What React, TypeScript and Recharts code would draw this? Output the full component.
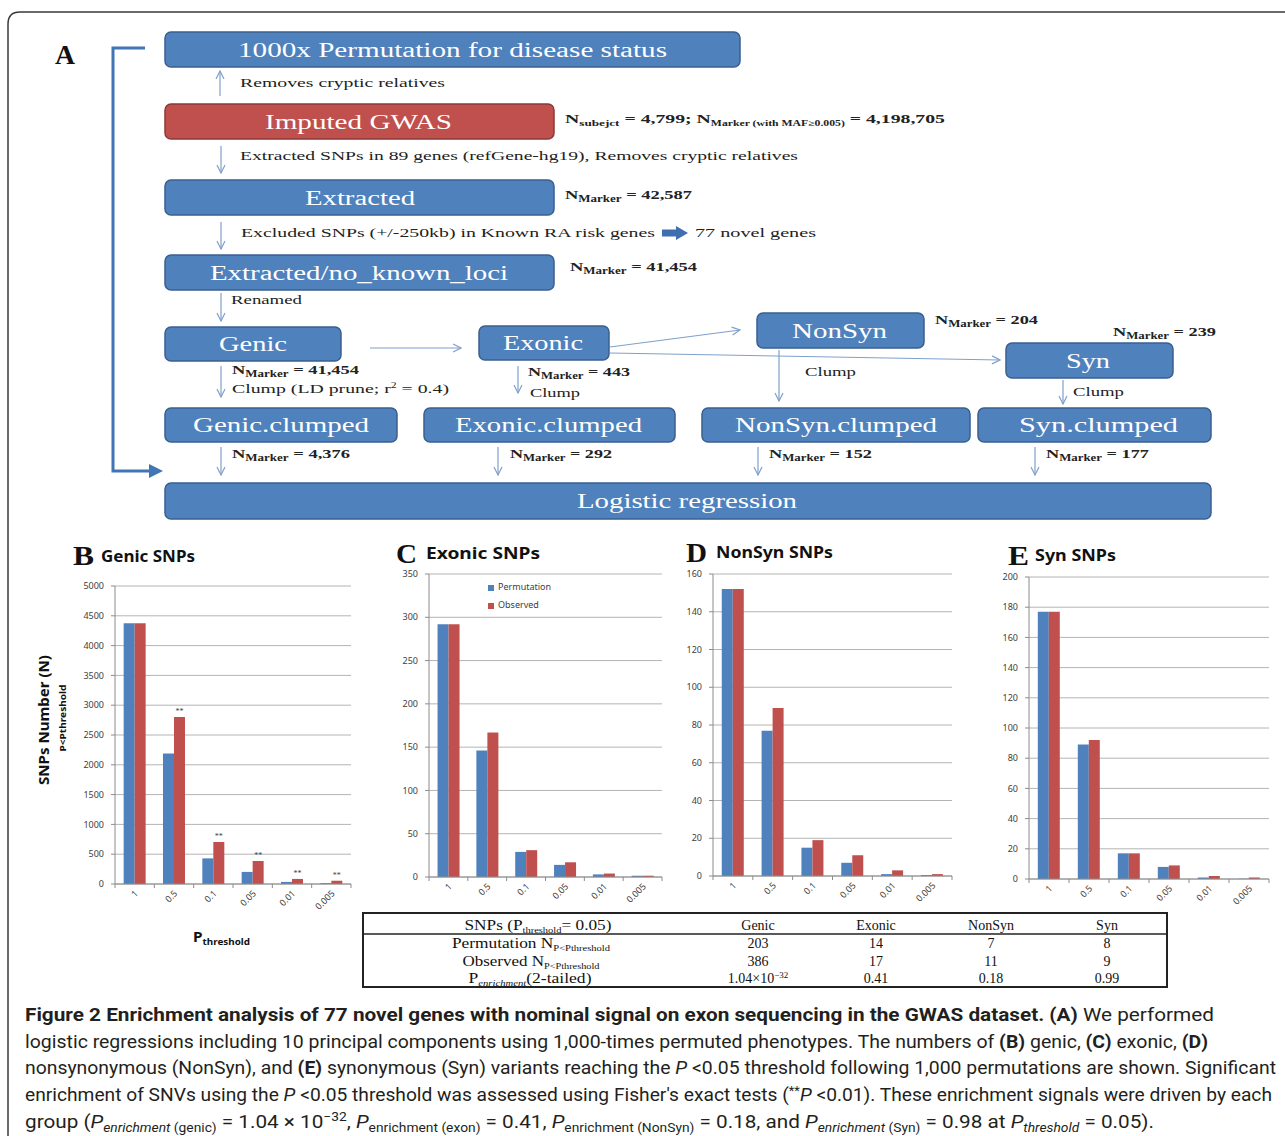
import React from 'react';
import { BarChart, Bar, XAxis, YAxis, CartesianGrid, Legend, LabelList } from 'recharts';

// P thresholds on the x axis (same for all four panels)
const thresholds = ['1', '0.5', '0.1', '0.05', '0.01', '0.005'];

// B: genic SNPs
const genicPerm = [4376, 2190, 430, 203, 35, 15];
const genicObs = [4376, 2800, 705, 386, 85, 55];
const genicSig = ['', '**', '**', '**', '**', '**'];
const genicTicks = [0, 500, 1000, 1500, 2000, 2500, 3000, 3500, 4000, 4500, 5000];

// C: exonic SNPs
const exonicPerm = [292, 146, 29, 14, 3, 1.5];
const exonicObs = [292, 167, 31, 17, 4, 1.5];
const exonicTicks = [0, 50, 100, 150, 200, 250, 300, 350];

// D: nonsynonymous SNPs
const nonsynPerm = [152, 77, 15, 7, 1, 0.5];
const nonsynObs = [152, 89, 19, 11, 3, 1];
const nonsynTicks = [0, 20, 40, 60, 80, 100, 120, 140, 160];

// E: synonymous SNPs
const synPerm = [177, 89, 17, 8, 1, 0.2];
const synObs = [177, 92, 17, 9, 2, 1];
const synTicks = [0, 20, 40, 60, 80, 100, 120, 140, 160, 180, 200];

// summary table (P threshold = 0.05)
const tableCols = ['Genic', 'Exonic', 'NonSyn', 'Syn'];
const tablePerm = ['203', '14', '7', '8'];
const tableObs = ['386', '17', '11', '9'];
const tableP = ['1.04', '0.41', '0.18', '0.99'];

const BLUE = '#4f81bd';
const RED = '#c0504d';
const SERIF = '"Liberation Serif", "Times New Roman", serif';
const SANS = '"Noto Sans", "Open Sans", sans-serif';
const CAPTION = 'Roboto, "Liberation Sans", sans-serif';
const AXIS = '#8c8c8c';
const ARROW = '#7fa0cc';

const Y_W = 45;
const X_H = 50;
const PAD_T = 12;
const PAD_R = 12;

type Plot = { x0: number; y0: number; x1: number; y1: number };

function rowsOf(perm: number[], obs: number[], sig?: string[]) {
  return thresholds.map((p, i) => ({ p, perm: perm[i], obs: obs[i], sig: sig ? sig[i] : '' }));
}

function SnpChart({ rows, ticks, plot, legend }: { rows: any[]; ticks: number[]; plot: Plot; legend?: boolean }) {
  const w = plot.x1 - plot.x0;
  const h = plot.y1 - plot.y0;
  const half = w / thresholds.length / 2;
  const axisY = PAD_T + h;

  const renderTick = (props: any) => {
    const { x, index } = props;
    const tx = x + 4;
    const ty = axisY + 10;
    return (
      <g>
        <line x1={x - half} x2={x - half} y1={axisY} y2={axisY + 4} stroke={AXIS} />
        {index === thresholds.length - 1 && (
          <line x1={x + half} x2={x + half} y1={axisY} y2={axisY + 4} stroke={AXIS} />
        )}
        <text x={tx} y={ty} transform={`rotate(-45 ${tx} ${ty})`} textAnchor="end" fontSize={9} fill="#404040" fontFamily={SANS}>
          {props.payload.value}
        </text>
      </g>
    );
  };

  return (
    <div style={{ position: 'absolute', left: plot.x0 - Y_W, top: plot.y0 - PAD_T }}>
      <BarChart
        width={w + Y_W + PAD_R}
        height={h + PAD_T + X_H}
        data={rows}
        margin={{ top: PAD_T, right: PAD_R, left: 0, bottom: 0 }}
        barCategoryGap="22%"
        barGap={0}
      >
        <CartesianGrid vertical={false} stroke="#b4b4b4" />
        <XAxis dataKey="p" height={X_H} tick={renderTick} tickLine={false} axisLine={{ stroke: AXIS }} interval={0} />
        <YAxis
          width={Y_W}
          domain={[0, ticks[ticks.length - 1]]}
          ticks={ticks}
          interval={0}
          tickSize={4}
          tickMargin={7}
          tick={{ fontSize: 9, fill: '#404040', fontFamily: SANS }}
          axisLine={{ stroke: AXIS }}
          tickLine={{ stroke: AXIS }}
        />
        <Bar dataKey="perm" name="Permutation" fill={BLUE} isAnimationActive={false} />
        <Bar dataKey="obs" name="Observed" fill={RED} isAnimationActive={false}>
          <LabelList dataKey="sig" position="top" offset={3} fontSize={8} fill="#404040" />
        </Bar>
        {legend && (
          <Legend
            layout="vertical"
            align="center"
            verticalAlign="middle"
            iconType="square"
            iconSize={6}
            itemSorter={(item: any) => (item.value === 'Permutation' ? 0 : 1)}
            formatter={(v: string) => <span style={{ color: '#404040' }}>{v}</span>}
            wrapperStyle={{ left: 104, top: 16, width: 90, fontSize: 9, lineHeight: '18px', fontFamily: SANS }}
          />
        )}
      </BarChart>
    </div>
  );
}

// fitted text helper
function FT({ x, y, w, size = 13.5, bold, fill = '#222', family = SERIF, anchor, children }: any) {
  return (
    <text x={x} y={y} textLength={w} lengthAdjust="spacingAndGlyphs" fontSize={size} fontWeight={bold ? 700 : 400}
      fill={fill} fontFamily={family} textAnchor={anchor}>
      {children}
    </text>
  );
}

function NM({ x, y, w, val, sub = 'Marker' }: any) {
  return (
    <FT x={x} y={y} w={w} size={13.5} bold>
      N<tspan fontSize={9.5} dy={3}>{sub}</tspan>
      <tspan dy={-3}>{` = ${val}`}</tspan>
    </FT>
  );
}

function Box({ x, y, w, h, label, tx, tw, red }: any) {
  return (
    <g>
      <rect x={x} y={y} width={w} height={h} rx={6} fill={red ? RED : BLUE} stroke={red ? '#8b3a38' : '#3a5f8f'} strokeWidth={1.5} />
      <FT x={tx} y={y + h / 2 + 7} w={tw} size={20} fill="#fff">{label}</FT>
    </g>
  );
}

function Arrow({ x1, y1, x2, y2 }: any) {
  return <line x1={x1} y1={y1} x2={x2} y2={y2} stroke={ARROW} strokeWidth={1.2} markerEnd="url(#ah)" />;
}

function Flow() {
  return (
    <g>
      <FT x={55} y={64} w={20} size={28} bold fill="#111">A</FT>
      <path d="M145,48 L113,48 L113,471 L150,471" stroke="#4275b5" strokeWidth={3} fill="none" />
      <path d="M149,464 L163,471 L149,478 Z" fill="#4275b5" />

      <Box x={165} y={32} w={575} h={35} label="1000x  Permutation  for  disease  status" tx={238} tw={429} />
      <Arrow x1={220} y1={96} x2={220} y2={71} />
      <FT x={240} y={87} w={205}>Removes  cryptic  relatives</FT>

      <Box x={165} y={104} w={389} h={35} label="Imputed  GWAS" tx={265} tw={187} red />
      <FT x={565} y={123} w={380} size={13.5} bold>
        N<tspan fontSize={9} dy={3}>subejct</tspan>
        <tspan dy={-3}> = 4,799; N</tspan>
        <tspan fontSize={8} dy={3}>Marker (with MAF≥0.005)</tspan>
        <tspan dy={-3}> = 4,198,705</tspan>
      </FT>
      <Arrow x1={221} y1={146} x2={221} y2={173} />
      <FT x={240} y={160} w={558}>Extracted  SNPs  in  89  genes  (refGene-hg19),  Removes  cryptic  relatives</FT>

      <Box x={165} y={180} w={389} h={35} label="Extracted" tx={305} tw={110} />
      <NM x={565} y={199} w={127} val="42,587" />
      <Arrow x1={221} y1={222} x2={221} y2={249} />
      <FT x={241} y={237} w={414}>Excluded  SNPs  (+/-250kb)   in  Known  RA  risk  genes</FT>
      <path d="M662,229.5 L676,229.5 L676,226 L688,233 L676,240 L676,236.5 L662,236.5 Z" fill="#3f6fb0" />
      <FT x={695} y={237} w={121}>77  novel  genes</FT>

      <Box x={165} y={255} w={389} h={35} label="Extracted/no_known_loci" tx={210} tw={298} />
      <NM x={570} y={271} w={127} val="41,454" />
      <Arrow x1={221} y1={293} x2={221} y2={321} />
      <FT x={231} y={304} w={71} size={12.5}>Renamed</FT>

      <Box x={165} y={327} w={176} h={34} label="Genic" tx={219} tw={68} />
      <Arrow x1={370} y1={348} x2={461} y2={348} />
      <Box x={479} y={326} w={130} h={34} label="Exonic" tx={503} tw={80} />
      <Arrow x1={610} y1={347} x2={740} y2={330} />
      <Arrow x1={610} y1={353} x2={1000} y2={360} />
      <Box x={757} y={313} w={167} h={35} label="NonSyn" tx={792} tw={95} />
      <NM x={935} y={324} w={103} val="204" />
      <Box x={1006} y={343} w={167} h={35} label="Syn" tx={1066} tw={44} />
      <NM x={1113} y={336} w={103} val="239" />

      <Arrow x1={221} y1={366} x2={221} y2={397} />
      <NM x={232} y={374} w={127} val="41,454" />
      <FT x={232} y={393} w={217}>
        Clump  (LD  prune;  r<tspan fontSize={8} dy={-5}>2</tspan><tspan dy={5}> = 0.4)</tspan>
      </FT>
      <Arrow x1={518} y1={366} x2={518} y2={393} />
      <NM x={528} y={376} w={102} val="443" />
      <FT x={530} y={397} w={50}>Clump</FT>
      <Arrow x1={779} y1={350} x2={779} y2={401} />
      <FT x={805} y={376} w={51}>Clump</FT>
      <Arrow x1={1063} y1={380} x2={1063} y2={404} />
      <FT x={1073} y={396} w={51}>Clump</FT>

      <Box x={165} y={408} w={232} h={34} label="Genic.clumped" tx={193} tw={176} />
      <Box x={424} y={408} w={251} h={34} label="Exonic.clumped" tx={455} tw={187} />
      <Box x={702} y={408} w={268} h={34} label="NonSyn.clumped" tx={735} tw={202} />
      <Box x={978} y={408} w={233} h={34} label="Syn.clumped" tx={1019} tw={159} />

      <Arrow x1={221} y1={447} x2={221} y2={475} />
      <NM x={232} y={458} w={118} val="4,376" />
      <Arrow x1={498} y1={447} x2={498} y2={475} />
      <NM x={510} y={458} w={102} val="292" />
      <Arrow x1={758} y1={447} x2={758} y2={475} />
      <NM x={769} y={458} w={103} val="152" />
      <Arrow x1={1035} y1={447} x2={1035} y2={475} />
      <NM x={1046} y={458} w={103} val="177" />

      <Box x={165} y={483} w={1046} h={36} label="Logistic  regression" tx={577} tw={220} />
    </g>
  );
}

function PanelTitles() {
  const t = (letter: string, lx: number, lb: number, name: string, nx: number, nw: number, nb: number) => (
    <g key={letter}>
      <FT x={lx} y={lb} w={21} size={28} bold fill="#111">{letter}</FT>
      <FT x={nx} y={nb} w={nw} size={16} bold fill="#111" family={SANS}>{name}</FT>
    </g>
  );
  return (
    <g>
      {t('B', 73, 565, 'Genic SNPs', 101, 94, 562)}
      {t('C', 396, 563, 'Exonic SNPs', 426, 114, 559)}
      {t('D', 686, 562, 'NonSyn SNPs', 716, 117, 558)}
      {t('E', 1008, 565, 'Syn SNPs', 1035, 81, 561)}
      <g transform="rotate(-90 49 720)">
        <FT x={49} y={720} w={130} size={14} bold fill="#111" family={SANS} anchor="middle">SNPs Number (N)</FT>
      </g>
      <g transform="rotate(-90 66 718)">
        <FT x={66} y={718} w={67} size={9} bold fill="#111" family={SANS} anchor="middle">P&lt;Pthreshold</FT>
      </g>
      <FT x={193} y={942} w={57} size={14} bold fill="#111" family={SANS}>
        P<tspan fontSize={9} dy={3}>threshold</tspan>
      </FT>
    </g>
  );
}

function Table() {
  const colX = [758, 876, 991, 1107];
  const rowY = [930, 948, 966, 983];
  return (
    <g fontFamily={SERIF} fill="#111">
      <rect x={363} y={913} width={804} height={74} fill="#fff" stroke="#222" strokeWidth={2} />
      <line x1={363} x2={1167} y1={934} y2={934} stroke="#222" strokeWidth={1.5} />
      <FT x={538} y={rowY[0]} w={147} size={14} anchor="middle" fill="#111">
        SNPs (P<tspan fontSize={8.5} dy={3}>threshold</tspan><tspan dy={-3}>= 0.05)</tspan>
      </FT>
      <FT x={531} y={rowY[1]} w={158} size={14} anchor="middle" fill="#111">
        Permutation N<tspan fontSize={8.5} dy={3}>P&lt;Pthreshold</tspan>
      </FT>
      <FT x={531} y={rowY[2]} w={137} size={14} anchor="middle" fill="#111">
        Observed N<tspan fontSize={8.5} dy={3}>P&lt;Pthreshold</tspan>
      </FT>
      <FT x={530} y={rowY[3]} w={123} size={14} anchor="middle" fill="#111">
        P<tspan fontSize={8.5} dy={3} fontStyle="italic">enrichment</tspan><tspan dy={-3}>(2-tailed)</tspan>
      </FT>
      {tableCols.map((c, i) => (
        <g key={c}>
          <text x={colX[i]} y={rowY[0]} textAnchor="middle" fontSize={14}>{c}</text>
          <text x={colX[i]} y={rowY[1]} textAnchor="middle" fontSize={14}>{tablePerm[i]}</text>
          <text x={colX[i]} y={rowY[2]} textAnchor="middle" fontSize={14}>{tableObs[i]}</text>
          <text x={colX[i]} y={rowY[3]} textAnchor="middle" fontSize={14}>
            {tableP[i]}
            {i === 0 && (
              <>
                <tspan>×10</tspan>
                <tspan fontSize={9} dy={-5}>−32</tspan>
              </>
            )}
          </text>
        </g>
      ))}
    </g>
  );
}

function Caption() {
  const s = 18;
  const sm = 12;
  const common = { fontSize: s, fill: '#231f20', fontFamily: CAPTION, lengthAdjust: 'spacingAndGlyphs' as const };
  return (
    <g>
      <text x={25} y={1021} textLength={1189} {...common}>
        <tspan fontWeight={700}>Figure 2 Enrichment analysis of 77 novel genes with nominal signal on exon sequencing in the GWAS dataset. (A)</tspan>
        <tspan> We performed</tspan>
      </text>
      <text x={25} y={1048} textLength={1183} {...common}>
        logistic regressions including 10 principal components using 1,000-times permuted phenotypes. The numbers of <tspan fontWeight={700}>(B)</tspan> genic, <tspan fontWeight={700}>(C)</tspan> exonic, <tspan fontWeight={700}>(D)</tspan>
      </text>
      <text x={25} y={1074} textLength={1251} {...common}>
        nonsynonymous (NonSyn), and <tspan fontWeight={700}>(E)</tspan> synonymous (Syn) variants reaching the <tspan fontStyle="italic">P</tspan> &lt;0.05 threshold following 1,000 permutations are shown. Significant
      </text>
      <text x={25} y={1101} textLength={1247} {...common}>
        enrichment of SNVs using the <tspan fontStyle="italic">P</tspan> &lt;0.05 threshold was assessed using Fisher's exact tests (<tspan fontSize={sm} dy={-6}>**</tspan><tspan fontStyle="italic" dy={6}>P</tspan> &lt;0.01). These enrichment signals were driven by each
      </text>
      <text x={25} y={1128} textLength={1129} {...common}>
        group (<tspan fontStyle="italic">P</tspan>
        <tspan fontSize={sm} dy={4} fontStyle="italic">enrichment</tspan>
        <tspan fontSize={sm}> (genic)</tspan>
        <tspan dy={-4}> = 1.04 × 10</tspan>
        <tspan fontSize={sm} dy={-7}>−32</tspan>
        <tspan dy={7}>, </tspan>
        <tspan fontStyle="italic">P</tspan>
        <tspan fontSize={sm} dy={4}>enrichment (exon)</tspan>
        <tspan dy={-4}> = 0.41, </tspan>
        <tspan fontStyle="italic">P</tspan>
        <tspan fontSize={sm} dy={4}>enrichment (NonSyn)</tspan>
        <tspan dy={-4}> = 0.18, and </tspan>
        <tspan fontStyle="italic">P</tspan>
        <tspan fontSize={sm} dy={4} fontStyle="italic">enrichment</tspan>
        <tspan fontSize={sm}> (Syn)</tspan>
        <tspan dy={-4}> = 0.98 at </tspan>
        <tspan fontStyle="italic">P</tspan>
        <tspan fontSize={sm} dy={4} fontStyle="italic">threshold</tspan>
        <tspan dy={-4}> = 0.05).</tspan>
      </text>
    </g>
  );
}

export default function App() {
  return (
    <div style={{ position: 'absolute', left: 0, top: 0, width: 1285, height: 1136, background: '#fff', overflow: 'hidden' }}>
      <svg width={1285} height={1136} style={{ position: 'absolute', left: 0, top: 0 }}>
        <defs>
          <marker id="ah" markerWidth={10} markerHeight={10} refX={9} refY={5} orient="auto" markerUnits="userSpaceOnUse">
            <path d="M1,1 L9,5 L1,9" fill="none" stroke={ARROW} strokeWidth={1.2} />
          </marker>
        </defs>
        <path d="M8,1136 L8,24 Q8,12 20,12 L1285,12" stroke="#3a3a3a" strokeWidth={1.5} fill="none" />
        <Flow />
        <PanelTitles />
        <Table />
        <Caption />
      </svg>
      <SnpChart rows={rowsOf(genicPerm, genicObs, genicSig)} ticks={genicTicks} plot={{ x0: 115, y0: 586, x1: 351, y1: 884 }} />
      <SnpChart rows={rowsOf(exonicPerm, exonicObs)} ticks={exonicTicks} plot={{ x0: 429, y0: 574, x1: 662, y1: 877 }} legend />
      <SnpChart rows={rowsOf(nonsynPerm, nonsynObs)} ticks={nonsynTicks} plot={{ x0: 713, y0: 574, x1: 952, y1: 876 }} />
      <SnpChart rows={rowsOf(synPerm, synObs)} ticks={synTicks} plot={{ x0: 1029, y0: 577, x1: 1269, y1: 879 }} />
    </div>
  );
}
